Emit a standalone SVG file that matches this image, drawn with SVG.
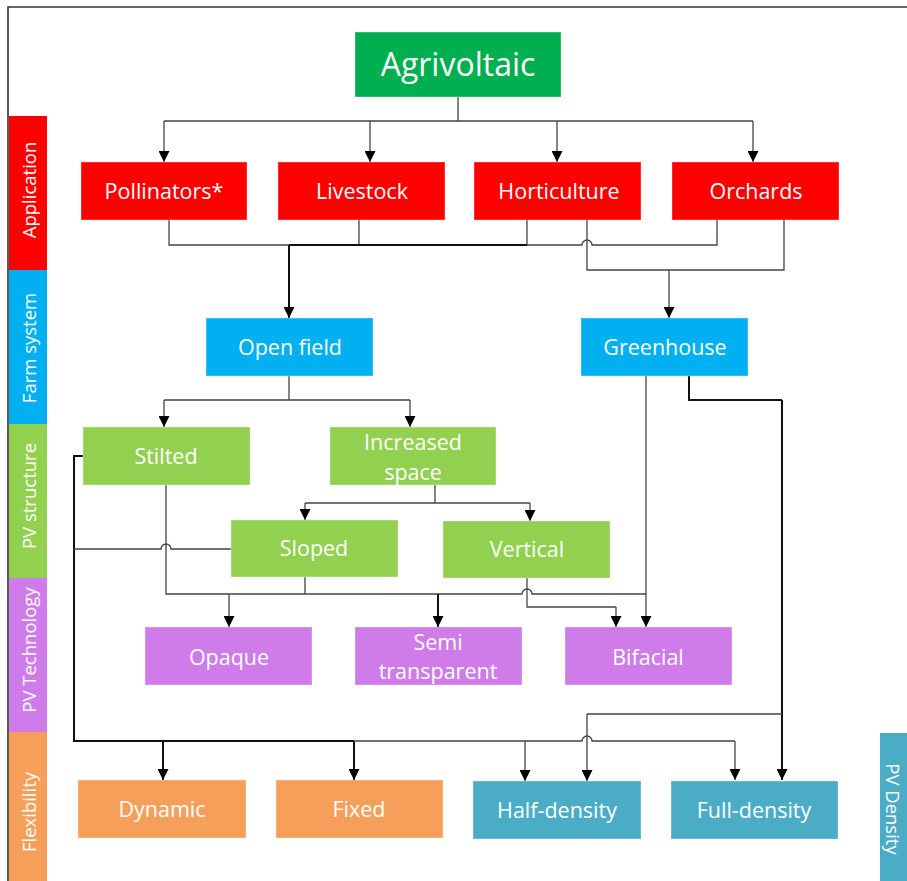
<svg xmlns="http://www.w3.org/2000/svg" width="907" height="881" viewBox="0 0 907 881">
<style>
text{font-family:"Open Sans","Noto Sans","DejaVu Sans",sans-serif;fill:#fff;text-anchor:middle;dominant-baseline:central}
.n{font-size:21.5px}
.s{font-size:18.5px}
.b{stroke:#ffffff;stroke-opacity:0.35;stroke-width:1}
.c{fill:none;stroke:#444;stroke-width:1.3}
.k{fill:none;stroke:#111;stroke-width:2}
.a{marker-end:url(#ar)}
</style>
<defs>
<marker id="ar" markerUnits="userSpaceOnUse" markerWidth="11" markerHeight="11" refX="11" refY="5.5" orient="auto" viewBox="0 0 11 11">
<path d="M0,0 L11,5.5 L0,11 z" fill="#000"/>
</marker>
</defs>
<rect width="907" height="881" fill="#fff"/>
<path d="M8,881 V7 H907" fill="none" stroke="#333" stroke-width="1.6"/>

<g id="stripes">
<rect x="9" y="116" width="38" height="154" fill="#ff0000"/>
<rect x="9" y="270" width="38" height="154" fill="#00b0f0"/>
<rect x="9" y="424" width="38" height="154" fill="#92d050"/>
<rect x="9" y="578" width="38" height="154" fill="#cf7be9"/>
<rect x="9" y="732" width="38" height="149" fill="#f59f5a"/>
<text class="s" transform="rotate(-90 28 190)" x="28" y="190">Application</text>
<text class="s" transform="rotate(-90 28 348)" x="28" y="348">Farm system</text>
<text class="s" transform="rotate(-90 28 496)" x="28" y="496">PV structure</text>
<text class="s" transform="rotate(-90 28 650)" x="28" y="650">PV Technology</text>
<text class="s" transform="rotate(-90 28 812)" x="28" y="812">Flexibility</text>
</g>
<g id="pvdensity">
<rect x="880" y="733" width="27" height="148" fill="#4bacc6"/>
<text class="s" transform="rotate(90 893 809)" x="893" y="809">PV Density</text>
</g>

<g id="connectors">
<path class="c" d="M458,97 V121 M164,121 H753"/>
<path class="c a" d="M164,121 V162"/>
<path class="c a" d="M370,121 V162"/>
<path class="c a" d="M557,121 V162"/>
<path class="c a" d="M753,121 V162"/>

<path class="c" d="M169,220 V245 H289 M359,220 V245 M527,220 V245 H582 a5,5 0 0 1 10,0 H717 V220"/>
<path class="k" d="M289,245 H527"/>
<path class="k a" d="M289,245 V318"/>
<path class="c" d="M587,220 V270 H784 V220"/>
<path class="c a" d="M669,270 V318"/>

<path class="c" d="M289,376 V400 M164,400 H410"/>
<path class="c a" d="M164,400 V427"/>
<path class="c a" d="M410,400 V427"/>
<path class="c" d="M435,485 V503 M305,503 H530"/>
<path class="c a" d="M305,503 V520"/>
<path class="c a" d="M530,503 V521"/>

<path class="k" d="M83,456 H74 V741 H354"/>
<path class="c" d="M231,549 H171 a5,5 0 0 0 -10,0 H74"/>
<path class="k a" d="M163,741 V780"/>
<path class="k a" d="M354,741 V780"/>
<path class="c" d="M354,741 H582 a5,5 0 0 1 10,0 H735"/>
<path class="c a" d="M735,741 V780"/>
<path class="c a" d="M525,741 V781"/>

<path class="c" d="M166,485 V594 H522 a5,5 0 0 1 10,0 H646 M305,577 V594"/>
<path class="c a" d="M229,594 V627"/>
<path class="k a" d="M438,594 V627"/>
<path class="c" d="M527,578 V607 H616"/>
<path class="c a" d="M616,607 V627"/>
<path class="c a" d="M646,376 V627"/>

<path class="k" d="M689,376 V400 H782"/>
<path class="k a" d="M782,400 V780"/>
<path class="c" d="M782,714 H587"/>
<path class="c a" d="M587,714 V781"/>
</g>

<g id="agrivoltaic"><rect class="b" x="355" y="32" width="206" height="65" fill="#00b050"/><text x="458" y="63" font-size="32px">Agrivoltaic</text></g>

<g id="pollinators"><rect class="b" x="81" y="162" width="166" height="58" fill="#ff0000"/><text class="n" x="164" y="190">Pollinators*</text></g>
<g id="livestock"><rect class="b" x="278" y="162" width="167" height="58" fill="#ff0000"/><text class="n" x="362" y="190">Livestock</text></g>
<g id="horticulture"><rect class="b" x="474" y="162" width="167" height="58" fill="#ff0000"/><text class="n" x="559" y="190">Horticulture</text></g>
<g id="orchards"><rect class="b" x="672" y="162" width="167" height="58" fill="#ff0000"/><text class="n" x="756" y="190">Orchards</text></g>

<g id="openfield"><rect class="b" x="206" y="318" width="167" height="58" fill="#00b0f0"/><text class="n" x="290" y="346">Open field</text></g>
<g id="greenhouse"><rect class="b" x="581" y="318" width="167" height="58" fill="#00b0f0"/><text class="n" x="665" y="346">Greenhouse</text></g>

<g id="stilted"><rect class="b" x="83" y="427" width="167" height="58" fill="#92d050"/><text class="n" x="166" y="455">Stilted</text></g>
<g id="increased"><rect class="b" x="330" y="427" width="166" height="58" fill="#92d050"/><text class="n" x="413" y="441">Increased</text><text class="n" x="413" y="471">space</text></g>
<g id="sloped"><rect class="b" x="231" y="520" width="167" height="57" fill="#92d050"/><text class="n" x="314" y="547">Sloped</text></g>
<g id="vertical"><rect class="b" x="443" y="521" width="167" height="57" fill="#92d050"/><text class="n" x="527" y="548">Vertical</text></g>

<g id="opaque"><rect class="b" x="145" y="627" width="167" height="58" fill="#cf7be9"/><text class="n" x="229" y="656">Opaque</text></g>
<g id="semi"><rect class="b" x="355" y="627" width="167" height="58" fill="#cf7be9"/><text class="n" x="438" y="641">Semi</text><text class="n" x="438" y="670">transparent</text></g>
<g id="bifacial"><rect class="b" x="565" y="627" width="167" height="58" fill="#cf7be9"/><text class="n" x="648" y="656">Bifacial</text></g>

<g id="dynamic"><rect class="b" x="78" y="780" width="168" height="58" fill="#f59f5a"/><text class="n" x="162" y="808">Dynamic</text></g>
<g id="fixed"><rect class="b" x="276" y="780" width="167" height="58" fill="#f59f5a"/><text class="n" x="359" y="808">Fixed</text></g>
<g id="half"><rect class="b" x="473" y="781" width="168" height="58" fill="#4bacc6"/><text class="n" x="557" y="809">Half-density</text></g>
<g id="full"><rect class="b" x="671" y="781" width="167" height="58" fill="#4bacc6"/><text class="n" x="754" y="809">Full-density</text></g>
</svg>
